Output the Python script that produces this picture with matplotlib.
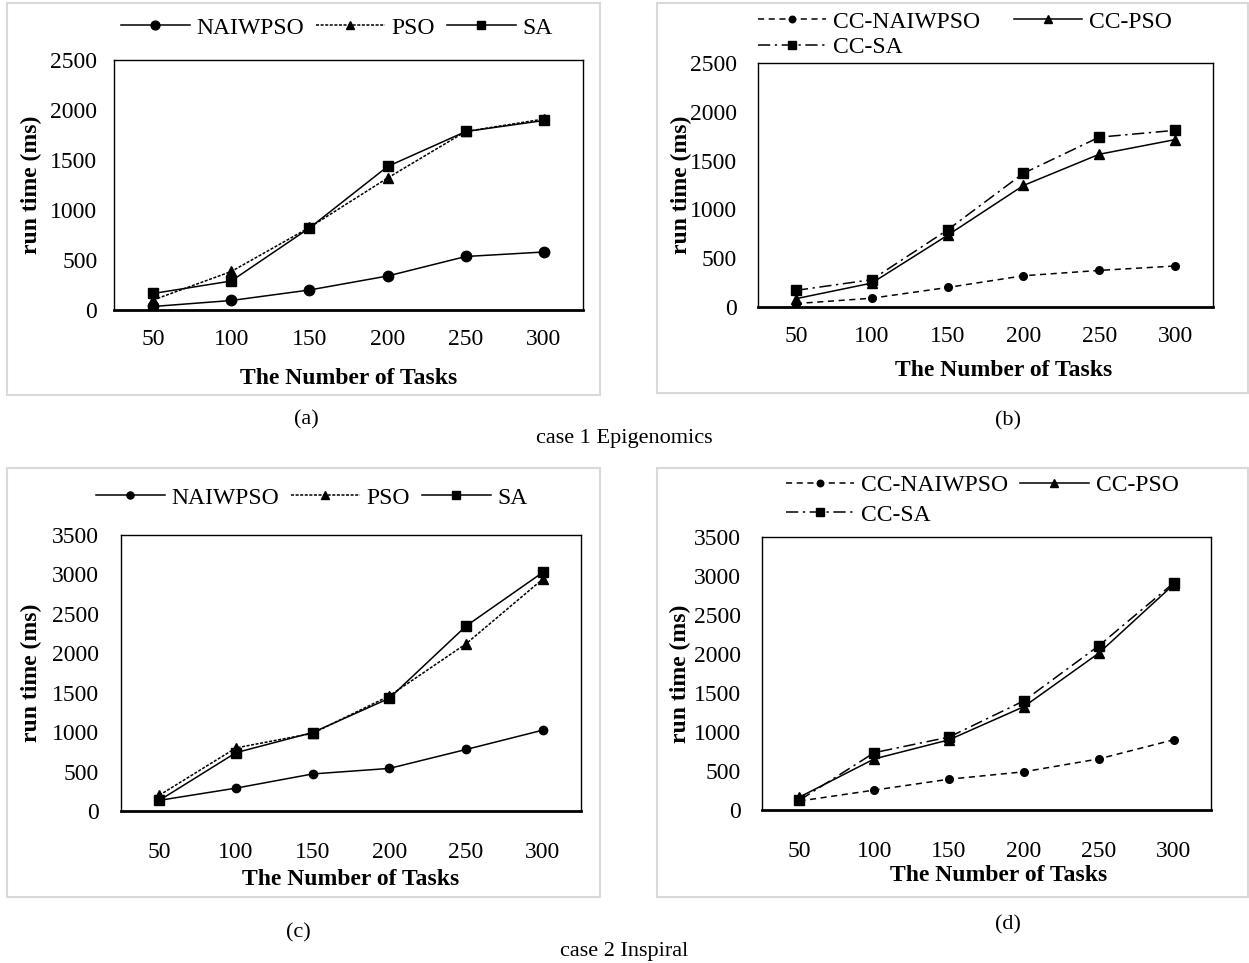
import matplotlib
matplotlib.use("Agg")
import matplotlib.pyplot as plt
from matplotlib.patches import Rectangle

plt.rcParams['font.family'] = ['Liberation Serif', 'DejaVu Serif']

tasks = [50, 100, 150, 200, 250, 300]

a_naiwpso = [35, 95, 200, 340, 535, 580]
a_pso = [100, 385, 825, 1320, 1785, 1910]
a_sa = [165, 290, 820, 1435, 1785, 1895]

b_cc_naiwpso = [35, 90, 200, 320, 375, 420]
b_cc_pso = [85, 245, 735, 1245, 1565, 1715]
b_cc_sa = [170, 280, 790, 1370, 1740, 1810]

c_naiwpso = [135, 290, 470, 540, 780, 1025]
c_pso = [200, 800, 985, 1460, 2120, 2940]
c_sa = [135, 740, 995, 1430, 2345, 3025]

d_cc_naiwpso = [115, 255, 395, 490, 655, 900]
d_cc_pso = [165, 655, 900, 1325, 2010, 2890]
d_cc_sa = [125, 735, 935, 1400, 2105, 2910]

W, H = 1249, 963
fig = plt.figure(figsize=(W / 100, H / 100), dpi=100)

FS = 17

def fx(px):
    return px / W

def fy(py):
    return 1 - py / H

# panel borders
for (x0, y0, x1, y1) in [(7, 3, 600, 395), (657, 3, 1248, 393),
                         (7, 468, 600, 897), (657, 468, 1248, 897)]:
    fig.patches.append(Rectangle((fx(x0), fy(y1)), fx(x1 - x0), (y1 - y0) / H,
                                 transform=fig.transFigure, fill=False,
                                 edgecolor='#d9d9d9', linewidth=1.5, zorder=0))

def make_ax(l, r, t, b, ymax, ylab_x, xlab_x, xlab_y, xpad, ypad):
    ax = fig.add_axes([fx(l), fy(b), fx(r - l), (b - t) / H])
    ax.set_xlim(-0.5, len(tasks) - 0.5)
    ax.set_ylim(0, ymax)
    ax.set_xticks(range(len(tasks)))
    ax.set_xticklabels([str(t) for t in tasks])
    ax.set_yticks(range(0, ymax + 1, 500))
    ax.tick_params(axis='both', length=0, labelsize=FS)
    ax.tick_params(axis='x', pad=xpad)
    ax.tick_params(axis='y', pad=ypad)
    for s in ['top', 'left', 'right']:
        ax.spines[s].set_linewidth(1.0)
        ax.spines[s].set_color('black')
    ax.spines['bottom'].set_linewidth(2.0)
    ax.set_ylabel('run time (ms)', fontsize=FS, fontweight='bold')
    ax.set_xlabel('The Number of Tasks', fontsize=FS, fontweight='bold')
    ax.yaxis.set_label_coords(ylab_x, 0.5)
    ax.xaxis.set_label_coords(xlab_x, xlab_y)
    return ax

x = list(range(len(tasks)))
lw = 1.1

# (a)
ax = make_ax(114, 583, 60, 310, 2500, -0.154, 0.5, -0.232, 14, 12)
h1, = ax.plot(x, a_naiwpso, '-', color='black', lw=lw, marker='o', ms=7.5, label='NAIWPSO')
h2, = ax.plot(x, a_pso, color='black', lw=lw, ls=(0, (2, 1)), marker='^', ms=6.5, label='PSO')
h3, = ax.plot(x, a_sa, '-', color='black', lw=lw, marker='s', ms=6.5, label='SA')
ax.legend(handles=[h1, h2, h3], loc='center', bbox_to_anchor=(fx(337), fy(28)),
          bbox_transform=fig.transFigure, ncol=3, frameon=False, fontsize=FS,
          handlelength=2.9, handletextpad=0.3, columnspacing=0.5, borderpad=0,
          markerscale=0.85)

# (b)
ax = make_ax(758, 1213, 63, 307, 2500, -0.146, 0.54, -0.217, 14, 15)
g1, = ax.plot(x, b_cc_naiwpso, color='black', lw=lw, ls=(0, (4, 3)), marker='o', ms=5.5, label='CC-NAIWPSO')
g2, = ax.plot(x, b_cc_pso, '-', color='black', lw=lw, marker='^', ms=7, label='CC-PSO')
g3, = ax.plot(x, b_cc_sa, color='black', lw=lw, ls=(0, (8, 3, 1.5, 3)), marker='s', ms=6.5, label='CC-SA')
ax.legend(handles=[g1, g3, g2], loc='center', bbox_to_anchor=(fx(965), fy(34.5)),
          bbox_transform=fig.transFigure, ncol=2, frameon=False, fontsize=FS,
          handlelength=2.9, handletextpad=0.3, columnspacing=1.4, borderpad=0,
          labelspacing=0.15, markerscale=0.85)

# (c)
ax = make_ax(121, 581, 535, 811, 3500, -0.172, 0.5, -0.21, 22, 16)
k1, = ax.plot(x, c_naiwpso, '-', color='black', lw=lw, marker='o', ms=6, label='NAIWPSO')
k2, = ax.plot(x, c_pso, color='black', lw=lw, ls=(0, (2, 1)), marker='^', ms=6.5, label='PSO')
k3, = ax.plot(x, c_sa, '-', color='black', lw=lw, marker='s', ms=6.5, label='SA')
ax.legend(handles=[k1, k2, k3], loc='center', bbox_to_anchor=(fx(312), fy(498)),
          bbox_transform=fig.transFigure, ncol=3, frameon=False, fontsize=FS,
          handlelength=2.9, handletextpad=0.3, columnspacing=0.5, borderpad=0,
          markerscale=0.85)

# (d)
ax = make_ax(762, 1211, 537, 810, 3500, -0.157, 0.528, -0.201, 22, 15)
m1, = ax.plot(x, d_cc_naiwpso, color='black', lw=lw, ls=(0, (4, 3)), marker='o', ms=5.5, label='CC-NAIWPSO')
m2, = ax.plot(x, d_cc_pso, '-', color='black', lw=lw, marker='^', ms=7, label='CC-PSO')
m3, = ax.plot(x, d_cc_sa, color='black', lw=lw, ls=(0, (8, 3, 1.5, 3)), marker='s', ms=6.5, label='CC-SA')
ax.legend(handles=[m1, m3, m2], loc='center', bbox_to_anchor=(fx(982), fy(500)),
          bbox_transform=fig.transFigure, ncol=2, frameon=False, fontsize=FS,
          handlelength=2.9, handletextpad=0.3, columnspacing=0.5, borderpad=0,
          labelspacing=0.35, markerscale=0.85)

# captions
CFS = 16
fig.text(fx(306), fy(420), '(a)', ha='center', va='center', fontsize=CFS)
fig.text(fx(1008), fy(421), '(b)', ha='center', va='center', fontsize=CFS)
fig.text(fx(624), fy(438), 'case 1 Epigenomics', ha='center', va='center', fontsize=CFS)
fig.text(fx(298), fy(933), '(c)', ha='center', va='center', fontsize=CFS)
fig.text(fx(1008), fy(925), '(d)', ha='center', va='center', fontsize=CFS)
fig.text(fx(624), fy(951), 'case 2 Inspiral', ha='center', va='center', fontsize=CFS)

fig.savefig('out.png', dpi=100)
